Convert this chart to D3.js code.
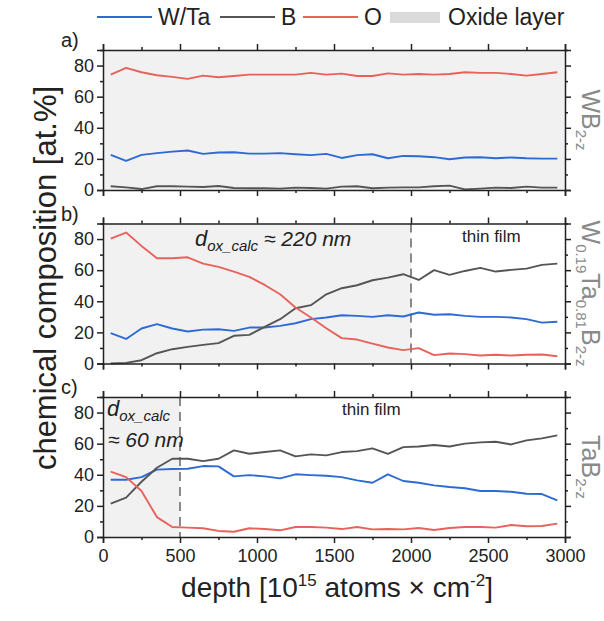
<!DOCTYPE html>
<meta charset="utf-8">
<style>
body { margin: 0; background: #fff; }
svg { font-family: "Liberation Sans", Arial, sans-serif; }
.tick text { font-size: 18px; fill: #222; }
.axis path, .axis line { stroke: #222; }
</style>
<svg></svg>
<script src="https://d3js.org/d3.v7.min.js"></script>
<script>

// depth positions (10^15 atoms/cm^2)
var depth = d3.range(30).map(function (k) { return 50 + 100 * k; });

// a) WB2-z
var aWTa = [22.6,18.7,22.6,23.7,24.7,25.4,23.2,24.1,24.3,23.4,23.4,23.7,23,22.4,23.2,20.6,22.4,23,20.4,21.9,21.7,21.1,19.8,20.9,21.1,20.4,20.9,20.4,20.2,20.2];
var aB   = [2.4,1.7,0.6,2.4,2.4,2.2,1.9,2.6,1.3,1.1,1.1,0.9,1.5,1.3,0.9,2.2,2.4,1.1,1.5,1.7,1.7,2.4,2.8,0.4,0.9,1.5,1.3,2.2,1.5,1.5];
var aO   = [74.2,78.5,75.7,73.8,72.7,71.4,73.5,72.5,73.3,74.2,74.2,74.2,74.2,75.3,74.2,74.8,73.3,73.3,75,74.2,74.6,74.2,74.6,75.7,75.3,75.3,74.6,73.5,74.6,75.7];

// b) W0.19Ta0.81B2-z
var bWTa = [19.5,15.8,22.5,25.3,22.5,20.6,21.8,22,21,23.1,23.1,24.2,25.9,28.5,29.6,31,30.6,30,31,30.2,32.8,31.3,31.7,30.6,30,30,29.6,28.5,26.3,26.8];
var bB   = [0,0.4,2.1,6.6,9.2,10.7,12,13.1,17.8,18.4,23.6,28.5,35.5,37.5,44.5,48.4,50.3,53.5,55.2,57.4,53.7,60,57,59.5,61.5,59.1,60.2,61,63.4,64.2];
var bO   = [80.3,84.2,75.6,67.7,67.7,68.3,64.2,62.1,59.1,55.7,50.5,44.5,36,29.6,22.7,16.3,15.4,12.8,10.3,8.6,9.9,5.4,6.4,6,5.1,5.6,5.1,5.6,5.8,4.7];

// c) TaB2-z
var cWTa = [36.8,36.8,38.5,43.3,43.7,43.9,45.6,45.4,39,39.8,39,37.7,40.3,39.8,39.4,38.5,36.4,34.9,40.3,36,34.9,33.2,32.1,31.3,29.6,29.6,29.1,27.8,27.6,23.6];
var cB   = [21.4,25.3,35.5,44.5,50.3,50.3,48.8,50.3,55.7,53.5,54.6,55.7,51.8,53.1,52.5,54.6,55.2,57,53.5,57.8,58.2,59.1,58.2,60,60.8,61.2,59.5,62.1,63.4,65.3];
var cO   = [42,38.5,29.6,12.8,6.4,6,5.6,3.9,3.4,5.6,5.1,4.3,6.4,6.4,6,5.1,6.4,4.9,5.1,4.9,5.8,4.5,5.8,6.4,6.4,6,7.7,6.9,7.1,8.6];

var oxideEnd = [3000, 2000, 500];
var panelLabels = ['a)', 'b)', 'c)'];
var yTicks = [0, 20, 40, 60, 80];
var xTicks = [0, 500, 1000, 1500, 2000, 2500, 3000];

var colors = { wta: '#2c6ad4', b: '#555555', o: '#e8625c' };

var panels = [
  { series: [aWTa, aB, aO], label: [['WB', ''], ['2-z', 'sub']] },
  { series: [bWTa, bB, bO], label: [['W', ''], ['0.19', 'sub'], ['Ta', ''], ['0.81', 'sub'], ['B', ''], ['2-z', 'sub']] },
  { series: [cWTa, cB, cO], label: [['TaB', ''], ['2-z', 'sub']] }
];

var W = 604, H = 621;
var left = 103, right = 565;
var tops = [50, 223.5, 397];
var ph = 140;

var svg = d3.select('svg').attr('width', W).attr('height', H);

var x = d3.scaleLinear().domain([0, 3000]).range([left, right]);

panels.forEach(function (p, i) {
  var y = d3.scaleLinear().domain([0, 90]).range([tops[i] + ph, tops[i]]);
  var g = svg.append('g');

  g.append('rect')
    .attr('x', x(0)).attr('y', y(90))
    .attr('width', x(oxideEnd[i]) - x(0)).attr('height', y(0) - y(90))
    .attr('fill', '#f1f1f1');

  if (oxideEnd[i] < 3000) {
    g.append('line')
      .attr('x1', x(oxideEnd[i])).attr('x2', x(oxideEnd[i]))
      .attr('y1', y(90)).attr('y2', y(0))
      .attr('stroke', '#666').attr('stroke-width', 1.5)
      .attr('stroke-dasharray', '9,6');
  }

  var line = d3.line()
    .x(function (d, k) { return x(depth[k]); })
    .y(function (d) { return y(d); });

  [colors.wta, colors.b, colors.o].forEach(function (c, s) {
    g.append('path')
      .datum(p.series[s])
      .attr('d', line)
      .attr('fill', 'none')
      .attr('stroke', c)
      .attr('stroke-width', 1.9)
      .attr('stroke-linejoin', 'round');
  });

  // axes: bottom / top (major + minor), left / right
  var minorX = d3.range(250, 3000, 500);
  var minorY = d3.range(10, 91, 20);

  var bottom = g.append('g').attr('class', 'axis')
    .attr('transform', 'translate(0,' + y(0) + ')')
    .call(d3.axisBottom(x).tickValues(xTicks).tickSize(6).tickFormat(i === 2 ? d3.format('d') : ''));
  g.append('g').attr('class', 'axis')
    .attr('transform', 'translate(0,' + y(0) + ')')
    .call(d3.axisBottom(x).tickValues(minorX).tickSize(3).tickFormat(''))
    .select('.domain').remove();
  g.append('g').attr('class', 'axis')
    .attr('transform', 'translate(0,' + y(90) + ')')
    .call(d3.axisTop(x).tickValues(xTicks).tickSize(6).tickFormat(''));
  g.append('g').attr('class', 'axis')
    .attr('transform', 'translate(0,' + y(90) + ')')
    .call(d3.axisTop(x).tickValues(minorX).tickSize(3).tickFormat(''))
    .select('.domain').remove();

  g.append('g').attr('class', 'axis')
    .attr('transform', 'translate(' + left + ',0)')
    .call(d3.axisLeft(y).tickValues(yTicks).tickSize(6).tickPadding(3));
  g.append('g').attr('class', 'axis')
    .attr('transform', 'translate(' + left + ',0)')
    .call(d3.axisLeft(y).tickValues(minorY).tickSize(3).tickFormat(''))
    .select('.domain').remove();
  g.append('g').attr('class', 'axis')
    .attr('transform', 'translate(' + right + ',0)')
    .call(d3.axisRight(y).tickValues(yTicks).tickSize(6).tickFormat(''));
  g.append('g').attr('class', 'axis')
    .attr('transform', 'translate(' + right + ',0)')
    .call(d3.axisRight(y).tickValues(minorY).tickSize(3).tickFormat(''))
    .select('.domain').remove();

  g.selectAll('.axis path, .axis line').attr('stroke-width', 1.5);
  bottom.selectAll('.tick text').attr('dy', '0.9em');

  g.append('text')
    .attr('x', 61).attr('y', tops[i] - 3)
    .attr('font-size', 20).attr('fill', '#222')
    .text(panelLabels[i]);

  var rl = g.append('text')
    .attr('transform', 'translate(582,' + (tops[i] + ph / 2) + ') rotate(90)')
    .attr('text-anchor', 'middle')
    .attr('font-size', 25).attr('fill', '#8a8a8a');
  p.label.forEach(function (part, j) {
    rl.append('tspan')
      .attr('font-size', part[1] === 'sub' ? 15 : 25)
      .attr('dy', part[1] === 'sub' ? 6 : (j === 0 ? 0 : -6))
      .text(part[0]);
  });
});

// annotations
function dox(xp, yp, rest) {
  var t = svg.append('text').attr('x', xp).attr('y', yp)
    .attr('font-size', 21).attr('font-style', 'italic').attr('fill', '#222');
  t.append('tspan').attr('font-size', 22).text('d');
  t.append('tspan').attr('font-size', 15).attr('dy', 5).text('ox_calc');
  if (rest) t.append('tspan').attr('dy', -5).text(' ' + rest);
}
dox(195, 246, '\u2248 220 nm');
dox(107, 416, null);
svg.append('text').attr('x', 108).attr('y', 447)
  .attr('font-size', 21).attr('font-style', 'italic').attr('fill', '#222')
  .text('\u2248 60 nm');

svg.append('text').attr('x', 462).attr('y', 242)
  .attr('font-size', 17).attr('fill', '#222').text('thin film');
svg.append('text').attr('x', 342).attr('y', 415)
  .attr('font-size', 17).attr('fill', '#222').text('thin film');

// y title
svg.append('text')
  .attr('transform', 'translate(56,' + 278 + ') rotate(-90)')
  .attr('text-anchor', 'middle')
  .attr('font-size', 31).attr('fill', '#222')
  .text('chemical composition [at.%]');

// x title
var xt = svg.append('text')
  .attr('x', (left + right) / 2 + 3).attr('y', 597)
  .attr('text-anchor', 'middle')
  .attr('font-size', 28).attr('fill', '#222');
xt.append('tspan').text('depth [10');
xt.append('tspan').attr('font-size', 17).attr('dy', -11).text('15');
xt.append('tspan').attr('dy', 11).text(' atoms \u00d7 cm');
xt.append('tspan').attr('font-size', 17).attr('dy', -11).text('-2');
xt.append('tspan').attr('dy', 11).text(']');

// legend
var legend = [
  { name: 'W/Ta', color: colors.wta, x: 97 },
  { name: 'B', color: colors.b, x: 220 },
  { name: 'O', color: colors.o, x: 303 }
];
legend.forEach(function (l) {
  svg.append('line')
    .attr('x1', l.x).attr('x2', l.x + 55).attr('y1', 17).attr('y2', 17)
    .attr('stroke', l.color).attr('stroke-width', 1.8);
  svg.append('text').attr('x', l.x + 61).attr('y', 25)
    .attr('font-size', 23).attr('fill', '#222').text(l.name);
});
svg.append('rect').attr('x', 390).attr('y', 12).attr('width', 50).attr('height', 11)
  .attr('fill', '#dadada');
svg.append('text').attr('x', 448).attr('y', 25)
  .attr('font-size', 23).attr('fill', '#222').text('Oxide layer');

</script>
